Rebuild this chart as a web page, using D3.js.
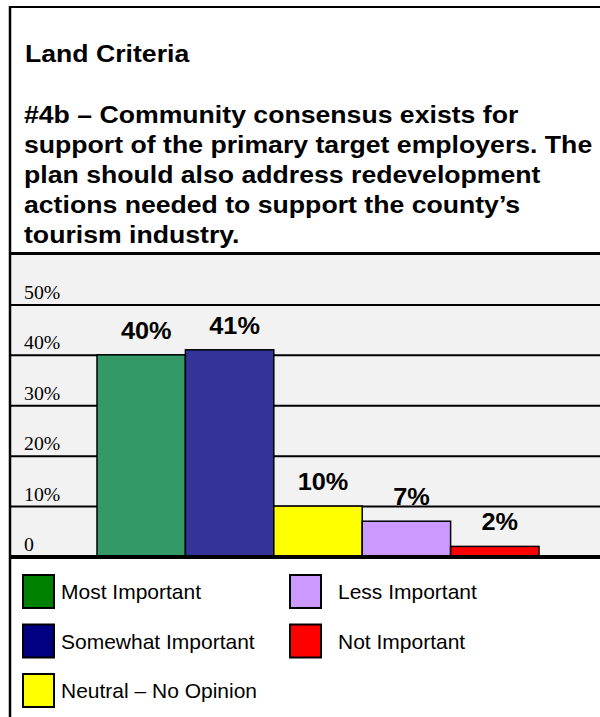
<!DOCTYPE html>
<html>
<head>
<meta charset="utf-8">
<script src="https://cdn.jsdelivr.net/npm/d3@7"></script>
<style>
  html, body { margin: 0; padding: 0; background: #ffffff; }
  svg { display: block; }
</style>
</head>
<body>
<svg id="chart" width="600" height="717"></svg>
<script>
// Survey responses for criterion #4b
const categories = ["Most Important", "Somewhat Important", "Neutral – No Opinion", "Less Important", "Not Important"];
const values = [0.40, 0.41, 0.10, 0.07, 0.02];
const valueLabels = ["40%", "41%", "10%", "7%", "2%"];
const barColors = ["#339966", "#333399", "#ffff00", "#cc99ff", "#ff0000"];
const legendColors = ["#008000", "#000080", "#ffff00", "#cc99ff", "#ff0000"];
const tickValues = [0, 0.1, 0.2, 0.3, 0.4, 0.5];
const tickLabels = ["0", "10%", "20%", "30%", "40%", "50%"];
const heading = "Land Criteria";
const titleLines = [
  "#4b – Community consensus exists for",
  "support of the primary target employers. The",
  "plan should also address redevelopment",
  "actions needed to support the county’s",
  "tourism industry."
];

const W = 600, H = 717;
const svg = d3.select("#chart");
const SANS = "Arial, 'Liberation Sans', sans-serif";
const SERIF = "'Times New Roman', 'Liberation Serif', serif";

// Horizontally widened text helper
function wideText(g, str, x, y, opts) {
  const sx = opts.sx || 1;
  return g.append("text")
    .attr("transform", `translate(${x},${y}) scale(${sx},1)`)
    .attr("font-family", opts.family || SANS)
    .attr("font-size", opts.size)
    .attr("font-weight", opts.weight || "normal")
    .attr("text-anchor", opts.anchor || "start")
    .attr("fill", "#000")
    .text(str);
}

// Plot panel background
svg.append("rect").attr("x", 11).attr("y", 255).attr("width", W - 11).attr("height", 300).attr("fill", "#f2f2f2");

// Scales
const x = d3.scaleBand().domain(categories).range([97, 539]).padding(0);
const y = d3.scaleLinear().domain([0, 0.6]).range([556.5, 254]);

// Gridlines and tick labels
const tickSX = 1.1;
const axisG = svg.append("g").attr("transform", "translate(10,0)")
  .call(d3.axisRight(y).tickValues(tickValues).tickSize(W - 10).tickFormat((d, i) => tickLabels[i]));
axisG.select(".domain").remove();
axisG.selectAll(".tick line").attr("stroke", "#000").attr("stroke-width", 2);
axisG.selectAll(".tick text")
  .attr("x", 14 / tickSX)
  .attr("y", -6)
  .attr("dy", null)
  .attr("transform", `scale(${tickSX},1)`)
  .attr("text-anchor", "start")
  .attr("font-family", SERIF)
  .attr("font-size", 18)
  .attr("fill", "#000");

// Bars
svg.append("g").selectAll("rect")
  .data(categories)
  .join("rect")
  .attr("x", d => x(d))
  .attr("y", (d, i) => y(values[i]))
  .attr("width", x.bandwidth())
  .attr("height", (d, i) => y(0) - y(values[i]))
  .attr("fill", (d, i) => barColors[i])
  .attr("stroke", "#000")
  .attr("stroke-width", 1.5);

// Value labels
const labG = svg.append("g");
categories.forEach((c, i) => {
  wideText(labG, valueLabels[i], x(c) + x.bandwidth() / 2 + 5, y(values[i]) - 16,
    { size: 23, weight: "bold", anchor: "middle", sx: 1.1 });
});

// Baseline
svg.append("line").attr("x1", 10).attr("x2", W).attr("y1", y(0) + 0.5).attr("y2", y(0) + 0.5)
  .attr("stroke", "#000").attr("stroke-width", 4);

// Frame lines
svg.append("line").attr("x1", 9).attr("x2", W).attr("y1", 7).attr("y2", 7).attr("stroke", "#000").attr("stroke-width", 2);
svg.append("line").attr("x1", 9).attr("x2", W).attr("y1", 253.5).attr("y2", 253.5).attr("stroke", "#000").attr("stroke-width", 3);
svg.append("line").attr("x1", 10).attr("x2", 10).attr("y1", 6).attr("y2", H).attr("stroke", "#000").attr("stroke-width", 2.5);

// Titles
const titleG = svg.append("g");
wideText(titleG, heading, 25, 62, { size: 24, weight: "bold", sx: 1.11 });
titleLines.forEach((t, i) => {
  wideText(titleG, t, 24, 123 + 30 * i, { size: 24, weight: "bold", sx: 1.11 });
});

// Legend: three rows on the left, two on the right
const legG = svg.append("g");
const colSwatchX = [23, 290], colTextX = [61, 338];
categories.forEach((c, i) => {
  const col = i < 3 ? 0 : 1;
  const row = i < 3 ? i : i - 3;
  const top = 575 + 49.5 * row;
  legG.append("rect")
    .attr("x", colSwatchX[col]).attr("y", top)
    .attr("width", 31).attr("height", 33)
    .attr("fill", legendColors[i])
    .attr("stroke", "#000").attr("stroke-width", 2);
  wideText(legG, c, colTextX[col], top + 24, { size: 20, sx: 1.05 });
});
</script>
</body>
</html>
